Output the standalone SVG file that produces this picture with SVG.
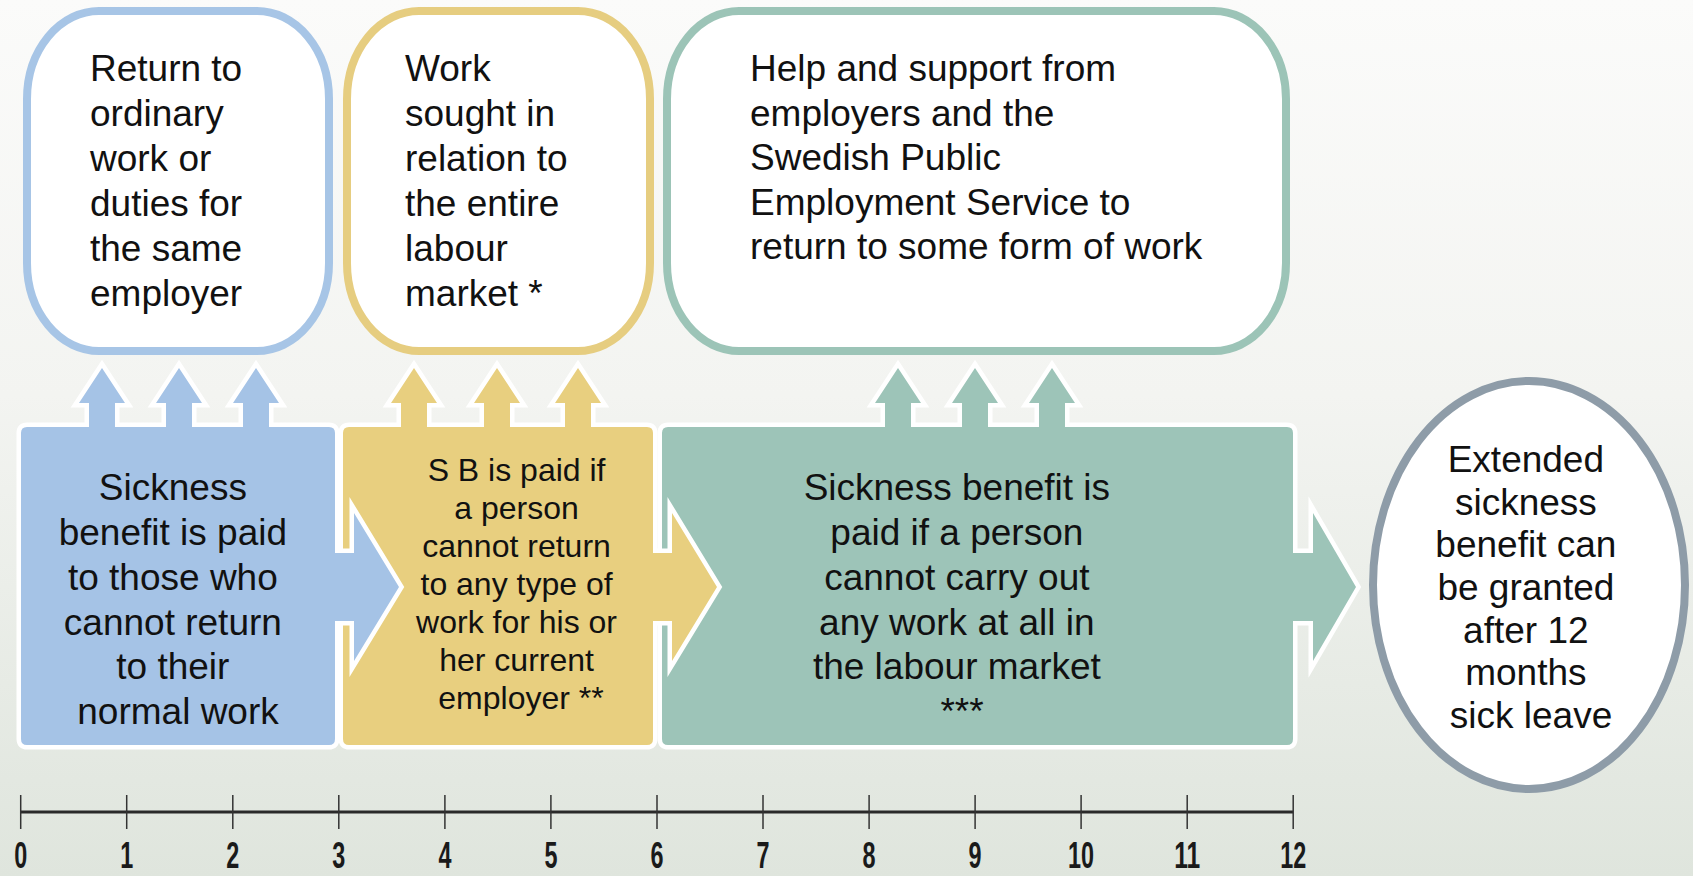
<svg xmlns="http://www.w3.org/2000/svg" width="1693" height="876" viewBox="0 0 1693 876">
  <defs>
    <linearGradient id="bg" x1="0" y1="0" x2="0" y2="1">
      <stop offset="0" stop-color="#fbfbfa"/>
      <stop offset="0.45" stop-color="#f3f4f1"/>
      <stop offset="1" stop-color="#dfe5dd"/>
    </linearGradient>
  </defs>
  <style>
    .txt { font-family: "Liberation Sans", Arial, sans-serif; fill: #111; }
    .top { font-size: 37px; }
    .mid { font-size: 37px; text-anchor: middle; }
    .small { font-size: 32px; text-anchor: middle; }
    .outcome { fill: #ffffff; stroke-width: 8; }
    .block { stroke: #ffffff; stroke-width: 9; stroke-linejoin: miter; paint-order: stroke; }
    .num { font-family: "Liberation Sans Narrow", "Liberation Sans", Arial, sans-serif; font-weight: bold; font-size: 37px; fill: #1a1a1a; text-anchor: middle; }
    .tick { stroke: #333; stroke-width: 1.5; }
  </style>

  <rect x="0" y="0" width="1693" height="876" fill="url(#bg)"/>

  <!-- Outcome boxes (top row) -->
  <g id="outcome-same-employer">
    <rect class="outcome" x="27" y="11" width="302" height="340" rx="72" ry="88" stroke="#a7c5e6"/>
    <text class="txt top" x="90">
      <tspan x="90" y="81">Return to</tspan>
      <tspan x="90" y="126">ordinary</tspan>
      <tspan x="90" y="171">work or</tspan>
      <tspan x="90" y="216">duties for</tspan>
      <tspan x="90" y="261">the same</tspan>
      <tspan x="90" y="306">employer</tspan>
    </text>
  </g>

  <g id="outcome-labour-market">
    <rect class="outcome" x="347" y="11" width="303" height="340" rx="72" ry="88" stroke="#e6cd80"/>
    <text class="txt top" x="405">
      <tspan x="405" y="81">Work</tspan>
      <tspan x="405" y="126">sought in</tspan>
      <tspan x="405" y="171">relation to</tspan>
      <tspan x="405" y="216">the entire</tspan>
      <tspan x="405" y="261">labour</tspan>
      <tspan x="405" y="306">market *</tspan>
    </text>
  </g>

  <g id="outcome-support">
    <rect class="outcome" x="667" y="11" width="619" height="340" rx="72" ry="88" stroke="#9cc4b7"/>
    <text class="txt top" x="750">
      <tspan x="750" y="81">Help and support from</tspan>
      <tspan x="750" y="125.5">employers and the</tspan>
      <tspan x="750" y="170">Swedish Public</tspan>
      <tspan x="750" y="214.5">Employment Service to</tspan>
      <tspan x="750" y="259">return to some form of work</tspan>
    </text>
  </g>

  <!-- Benefit phases (bottom row); each shape carries its up-arrows and its right-pointing head -->
  <g id="connectors">
    <path id="phase3-shape" class="block" fill="#9dc4b8" d="M668,427 L885,427 L885,403 L875,403 L898,368 L921,403 L911,403 L911,427 L962,427 L962,403 L952,403 L975,368 L998,403 L988,403 L988,427 L1039,427 L1039,403 L1029,403 L1052,368 L1075,403 L1065,403 L1065,427 L1287,427 Q1293,427 1293,433 L1293,553 L1313,553 L1313,513 L1356,587 L1313,661 L1313,621 L1293,621 L1293,739 Q1293,745 1287,745 L668,745 Q662,745 662,739 L662,433 Q662,427 668,427 Z"/>
    <path id="phase2-shape" class="block" fill="#e8cf7f" d="M349,427 L401,427 L401,403 L391,403 L414,368 L437,403 L427,403 L427,427 L484,427 L484,403 L474,403 L497,368 L520,403 L510,403 L510,427 L565,427 L565,403 L555,403 L578,368 L601,403 L591,403 L591,427 L647,427 Q653,427 653,433 L653,553 L672,553 L672,513 L717,587 L672,661 L672,621 L653,621 L653,739 Q653,745 647,745 L349,745 Q343,745 343,739 L343,433 Q343,427 349,427 Z"/>
    <path id="phase1-shape" class="block" fill="#a5c3e6" d="M27,427 L89,427 L89,403 L79,403 L102,368 L125,403 L115,403 L115,427 L166,427 L166,403 L156,403 L179,368 L202,403 L192,403 L192,427 L243,427 L243,403 L233,403 L256,368 L279,403 L269,403 L269,427 L329,427 Q335,427 335,433 L335,553 L354,553 L354,513 L399,587 L354,661 L354,621 L335,621 L335,739 Q335,745 329,745 L27,745 Q21,745 21,739 L21,433 Q21,427 27,427 Z"/>
  </g>

  <g id="phase-1">
    <text class="txt mid" x="178">
      <tspan x="178" y="500">Sickness</tspan>
      <tspan x="178" y="545">benefit is paid</tspan>
      <tspan x="178" y="590">to those who</tspan>
      <tspan x="178" y="635">cannot return</tspan>
      <tspan x="178" y="679">to their</tspan>
      <tspan x="178" y="724">normal work</tspan>
    </text>
  </g>

  <g id="phase-2">
    <text class="txt small" x="521">
      <tspan x="521" y="481">S B is paid if</tspan>
      <tspan x="521" y="519">a person</tspan>
      <tspan x="521" y="557">cannot return</tspan>
      <tspan x="521" y="595">to any type of</tspan>
      <tspan x="521" y="633">work for his or</tspan>
      <tspan x="521" y="671">her current</tspan>
      <tspan x="521" y="709">employer **</tspan>
    </text>
  </g>

  <g id="phase-3">
    <text class="txt mid" x="962">
      <tspan x="962" y="500">Sickness benefit is</tspan>
      <tspan x="962" y="545">paid if a person</tspan>
      <tspan x="962" y="590">cannot carry out</tspan>
      <tspan x="962" y="635">any work at all in</tspan>
      <tspan x="962" y="679">the labour market</tspan>
      <tspan x="962" y="724">***</tspan>
    </text>
  </g>

  <g id="extended-benefit">
    <ellipse cx="1529" cy="585" rx="156" ry="204" fill="#ffffff" stroke="#8e9ca8" stroke-width="8"/>
    <text class="txt mid" x="1531">
      <tspan x="1531" y="472">Extended</tspan>
      <tspan x="1531" y="515">sickness</tspan>
      <tspan x="1531" y="557">benefit can</tspan>
      <tspan x="1531" y="600">be granted</tspan>
      <tspan x="1531" y="643">after 12</tspan>
      <tspan x="1531" y="685">months</tspan>
      <tspan x="1531" y="728">sick leave</tspan>
    </text>
  </g>

  <!-- Month axis -->
  <g id="axis">
    <line x1="20.7" y1="812" x2="1293.2" y2="812" stroke="#2a2a2a" stroke-width="3"/>
    <line class="tick" x1="20.7" y1="795" x2="20.7" y2="829"/>
    <line class="tick" x1="126.7" y1="795" x2="126.7" y2="829"/>
    <line class="tick" x1="232.8" y1="795" x2="232.8" y2="829"/>
    <line class="tick" x1="338.8" y1="795" x2="338.8" y2="829"/>
    <line class="tick" x1="444.9" y1="795" x2="444.9" y2="829"/>
    <line class="tick" x1="550.9" y1="795" x2="550.9" y2="829"/>
    <line class="tick" x1="657" y1="795" x2="657" y2="829"/>
    <line class="tick" x1="763" y1="795" x2="763" y2="829"/>
    <line class="tick" x1="869.1" y1="795" x2="869.1" y2="829"/>
    <line class="tick" x1="975.1" y1="795" x2="975.1" y2="829"/>
    <line class="tick" x1="1081.1" y1="795" x2="1081.1" y2="829"/>
    <line class="tick" x1="1187.2" y1="795" x2="1187.2" y2="829"/>
    <line class="tick" x1="1293.2" y1="795" x2="1293.2" y2="829"/>
    <text class="num" x="20.7" y="868" textLength="13" lengthAdjust="spacingAndGlyphs">0</text>
    <text class="num" x="126.7" y="868" textLength="13" lengthAdjust="spacingAndGlyphs">1</text>
    <text class="num" x="232.8" y="868" textLength="13" lengthAdjust="spacingAndGlyphs">2</text>
    <text class="num" x="338.8" y="868" textLength="13" lengthAdjust="spacingAndGlyphs">3</text>
    <text class="num" x="444.9" y="868" textLength="13" lengthAdjust="spacingAndGlyphs">4</text>
    <text class="num" x="550.9" y="868" textLength="13" lengthAdjust="spacingAndGlyphs">5</text>
    <text class="num" x="657" y="868" textLength="13" lengthAdjust="spacingAndGlyphs">6</text>
    <text class="num" x="763" y="868" textLength="13" lengthAdjust="spacingAndGlyphs">7</text>
    <text class="num" x="869.1" y="868" textLength="13" lengthAdjust="spacingAndGlyphs">8</text>
    <text class="num" x="975.1" y="868" textLength="13" lengthAdjust="spacingAndGlyphs">9</text>
    <text class="num" x="1081.1" y="868" textLength="26" lengthAdjust="spacingAndGlyphs">10</text>
    <text class="num" x="1187.2" y="868" textLength="26" lengthAdjust="spacingAndGlyphs">11</text>
    <text class="num" x="1293.2" y="868" textLength="26" lengthAdjust="spacingAndGlyphs">12</text>
  </g>
</svg>
